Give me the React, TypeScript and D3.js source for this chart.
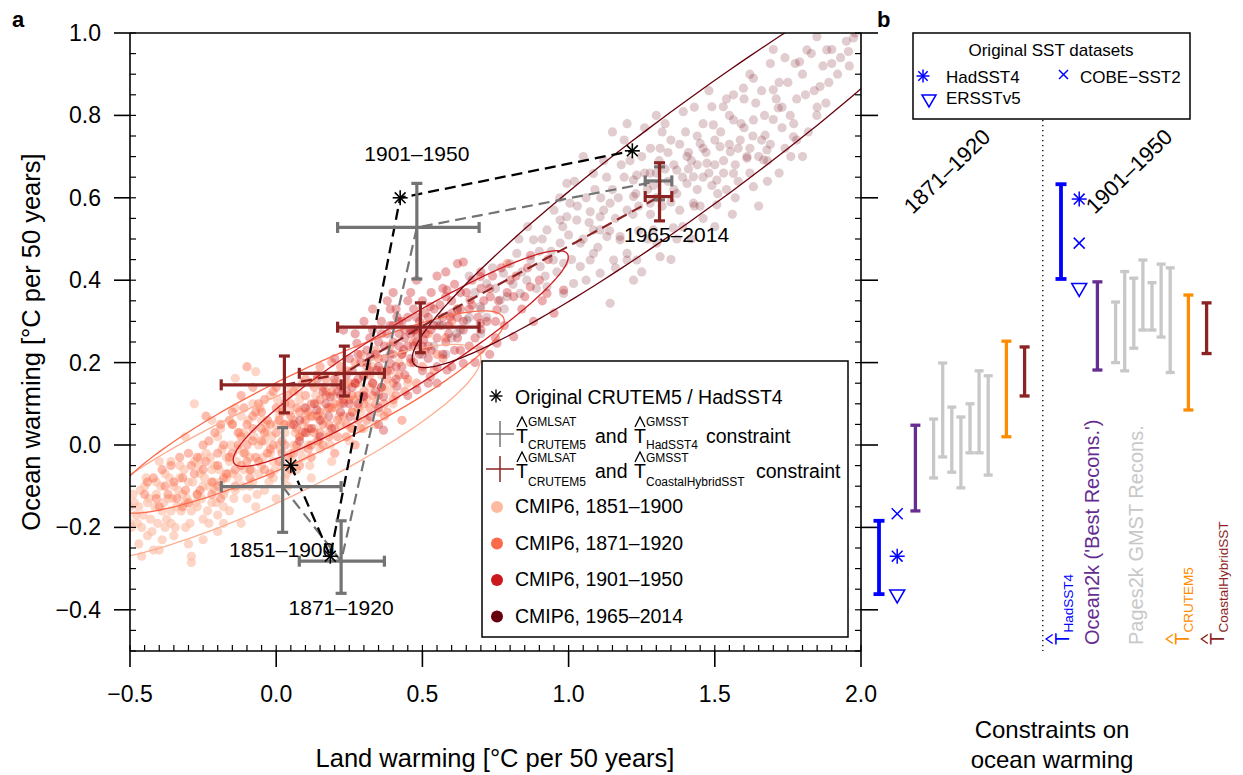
import React from 'react';
import * as d3 from 'd3';

type Pt = [number, number];

// ---------------- Panel a data ----------------
const periodLabels = ['1851–1900', '1871–1920', '1901–1950', '1965–2014'];
const cmipColors = ['#FCBBA1', '#FB6A4A', '#CB181D', '#67000D'];
const cmipOpacity = [0.6, 0.45, 0.36, 0.2];
const ellipseColors = ['#FCAE91', '#FB6A4A', '#CB181D', '#67000D'];

const cmip1851: Pt[] = [
  [-0.49,-0.12],[-0.48,-0.17],[-0.47,-0.15],[-0.46,-0.2],[-0.45,-0.1],[-0.44,-0.14],[-0.43,-0.18],[-0.42,-0.255],[-0.41,-0.12],[-0.4,-0.255],
  [-0.39,-0.16],[-0.38,-0.07],[-0.37,-0.13],[-0.36,-0.19],[-0.35,-0.1],[-0.34,-0.15],[-0.33,-0.05],[-0.32,-0.12],[-0.31,-0.2],[-0.3,-0.09],
  [-0.29,-0.27],[-0.29,-0.285],[-0.29,-0.16],[-0.28,-0.04],[-0.28,0.1],[-0.27,-0.12],[-0.26,-0.07],[-0.25,-0.18],[-0.24,-0.02],[-0.23,-0.1],
  [-0.22,-0.14],[-0.21,-0.05],[-0.2,-0.21],[-0.2,0.02],[-0.19,-0.09],[-0.18,-0.12],[-0.17,-0.03],[-0.16,-0.16],[-0.15,0.05],[-0.15,-0.07],
  [-0.14,0.162],[-0.14,-0.11],[-0.13,-0.01],[-0.12,-0.19],[-0.12,0.07],[-0.11,-0.06],[-0.1,-0.13],[-0.1,0.02],[-0.09,-0.03],[-0.08,0.1],
  [-0.08,-0.09],[-0.07,0.178],[-0.07,-0.15],[-0.06,0.0],[-0.05,-0.05],[-0.05,0.06],[-0.04,-0.11],[-0.03,0.03],[-0.02,-0.02],[-0.02,0.12],
  [-0.01,-0.08],[0.0,0.05],[0.0,-0.13],[0.01,0.0],[0.02,0.09],[0.02,-0.05],[0.03,0.03],[0.04,-0.1],[0.05,0.14],[0.05,-0.02],
  [0.06,0.06],[0.07,-0.06],[0.08,0.02],[0.08,0.11],[0.09,-0.03],[0.1,0.07],[0.11,0.0],[0.12,0.15],[0.12,-0.08],[0.13,0.04],
  [0.14,0.1],[0.15,-0.01],[0.16,0.07],[0.17,0.13],[0.18,0.03],[0.19,-0.04],[0.2,0.09],[0.21,0.17],[0.22,0.05],[0.24,0.12],
  [0.25,0.01],[0.26,0.08],[0.28,0.15],[0.3,0.04],[0.31,0.11],[0.33,0.19],[0.35,0.08],[0.37,0.14],[0.4,0.1],[0.42,0.2],[0.45,0.15],
  [-0.25,-0.1],[-0.22,-0.06],[-0.18,-0.15],[-0.16,-0.04],[-0.13,-0.08],[-0.11,0.03],[-0.09,-0.1],[-0.06,-0.07],[-0.04,0.01],[-0.01,-0.04],
  [0.01,0.07],[0.03,-0.08],[0.06,0.0],[0.09,0.05],[-0.35,-0.22],[-0.38,-0.2],[-0.44,-0.22],[-0.47,-0.24],[-0.5,-0.19],[-0.5,-0.15],
  [-0.33,-0.08],[-0.27,-0.15],[-0.23,-0.19],[-0.19,0.04],[-0.41,-0.09],[-0.36,-0.16],[-0.31,-0.14],[-0.26,-0.03],[-0.21,-0.11],[-0.17,-0.08],
  [-0.495,-0.2],[-0.485,-0.14],[-0.475,-0.19],[-0.465,-0.11],[-0.455,-0.17],[-0.445,-0.08],[-0.435,-0.13],[-0.425,-0.21],[-0.415,-0.15],[-0.405,-0.19],
  [-0.395,-0.1],[-0.385,-0.14],[-0.375,-0.18],[-0.365,-0.08],[-0.355,-0.13],[-0.345,-0.2],[-0.335,-0.11],[-0.325,-0.16],[-0.315,-0.06],[-0.305,-0.13],
  [-0.295,-0.19],[-0.285,-0.09],[-0.275,-0.14],[-0.265,-0.05],[-0.255,-0.13],[-0.245,-0.08],[-0.235,-0.16],[-0.225,-0.03],[-0.215,-0.09],[-0.205,-0.14],
  [-0.195,-0.06],[-0.185,-0.01],[-0.175,-0.11],[-0.165,-0.07],[-0.155,0.0],[-0.145,-0.13],[-0.135,-0.04],[-0.125,0.03],[-0.115,-0.1],[-0.105,-0.02],
  [-0.095,0.06],[-0.085,-0.06],[-0.075,0.02],[-0.065,-0.12],[-0.055,0.09],[-0.045,-0.03],[-0.035,0.05],[-0.025,-0.09],[-0.015,0.02],[-0.005,-0.06],
  [0.005,0.11],[0.015,-0.01],[0.025,0.05],[0.035,-0.07],[0.045,0.08],[0.055,-0.04],[0.065,0.03],[0.075,0.13],[0.085,-0.01],[0.095,0.09],
  [0.105,0.03],[0.115,-0.05],[0.125,0.07],[0.135,0.12],[0.145,0.01],[0.155,0.06],[0.165,0.17],[0.175,0.09],[0.185,0.0],[0.195,0.12],
  [0.215,0.07],[0.235,0.15],[0.255,0.04],[0.27,0.11],[0.29,0.08],[0.32,0.14],[0.34,0.05],[0.36,0.17],[0.39,0.13],[-0.36,-0.04],
  [-0.3,-0.24],[-0.25,-0.23],[-0.2,-0.17],[-0.46,-0.27],[-0.39,-0.23],[-0.14,0.09],[-0.22,0.06],[-0.31,0.02],[-0.4,-0.04],[-0.18,-0.19]
];

const cmip1871: Pt[] = [
  [-0.45,-0.12],[-0.42,-0.08],[-0.4,-0.15],[-0.38,-0.1],[-0.36,-0.05],[-0.34,-0.13],[-0.32,-0.08],[-0.3,-0.02],[-0.3,-0.14],[-0.28,-0.07],
  [-0.26,-0.11],[-0.25,0.0],[-0.24,-0.04],[-0.22,-0.09],[-0.21,0.03],[-0.2,-0.05],[-0.19,-0.13],[-0.18,0.0],[-0.17,-0.07],[-0.16,0.06],
  [-0.15,-0.02],[-0.14,-0.1],[-0.13,0.03],[-0.12,-0.05],[-0.11,0.09],[-0.1,0.0],[-0.09,-0.08],[-0.08,0.04],[-0.07,-0.03],[-0.06,0.1],
  [-0.05,0.01],[-0.04,-0.06],[-0.03,0.06],[-0.02,-0.01],[-0.01,0.13],[0.0,0.03],[0.01,-0.04],[0.02,0.08],[0.03,0.0],[0.04,0.12],
  [0.05,0.05],[0.06,-0.02],[0.07,0.09],[0.08,0.02],[0.09,0.15],[0.1,0.06],[0.11,-0.01],[0.12,0.1],[0.13,0.03],[0.14,0.17],
  [0.15,0.08],[0.16,0.0],[0.17,0.12],[0.18,0.05],[0.19,0.2],[0.2,0.1],[0.21,0.02],[0.22,0.14],[0.23,0.07],[0.24,0.18],
  [0.25,0.11],[0.26,0.04],[0.27,0.15],[0.28,0.09],[0.29,0.22],[0.3,0.13],[0.31,0.06],[0.32,0.17],[0.34,0.1],[0.35,0.21],
  [0.36,0.14],[0.38,0.08],[0.39,0.18],[0.41,0.12],[0.43,0.22],[0.45,0.16],[0.47,0.25],[0.5,0.19],[0.52,0.27],[0.55,0.22],
  [0.58,0.26],[0.6,0.3],[-0.08,0.07],[-0.04,0.03],[0.0,0.09],[0.02,-0.02],[0.05,0.1],[0.07,0.04],[0.1,0.12],[0.12,0.0],
  [0.14,0.07],[0.16,0.14],[0.18,0.09],[0.2,0.04],[0.22,0.1],[0.24,0.02],[0.26,0.12],[0.28,0.06],[-0.12,0.02],[-0.15,0.05],
  [-0.1,-0.04],[-0.05,0.08],[0.03,0.05],[0.08,-0.05],[0.11,0.08],[0.19,0.13],[0.15,0.03],[-0.2,-0.1],[-0.27,-0.03],[0.33,0.12],
  [0.37,0.1],[0.3,0.17],[0.4,0.15],[0.79,0.44],[0.62,0.33],[-0.1,0.19],
  [-0.44,-0.09],[-0.41,-0.13],[-0.39,-0.06],[-0.37,-0.12],[-0.35,-0.09],[-0.33,-0.03],[-0.31,-0.11],[-0.29,-0.05],[-0.27,-0.12],[-0.25,-0.06],
  [-0.23,0.01],[-0.22,-0.12],[-0.2,-0.02],[-0.19,0.05],[-0.18,-0.08],[-0.16,-0.03],[-0.15,0.08],[-0.14,-0.06],[-0.13,0.0],[-0.12,0.12],
  [-0.11,-0.02],[-0.1,0.05],[-0.09,-0.06],[-0.08,0.01],[-0.07,0.08],[-0.06,-0.04],[-0.05,0.04],[-0.04,0.11],[-0.03,-0.02],[-0.02,0.05],
  [-0.01,0.0],[0.0,0.14],[0.01,0.06],[0.02,0.01],[0.03,0.1],[0.04,-0.03],[0.05,0.07],[0.06,0.13],[0.07,0.0],[0.08,0.08],
  [0.09,0.03],[0.1,0.16],[0.11,0.04],[0.12,0.07],[0.13,0.14],[0.14,0.01],[0.15,0.11],[0.16,0.05],[0.17,0.16],[0.18,0.02],
  [0.19,0.09],[0.2,0.15],[0.21,0.06],[0.22,0.19],[0.23,0.11],[0.24,0.05],[0.25,0.15],[0.26,0.08],[0.27,0.2],[0.28,0.12],
  [0.29,0.04],[0.3,0.1],[0.31,0.19],[0.32,0.09],[0.33,0.15],[0.34,0.23],[0.35,0.12],[0.36,0.18],[0.37,0.07],[0.38,0.16],
  [0.39,0.24],[0.4,0.11],[0.42,0.17],[0.44,0.13],[0.46,0.2],[0.48,0.15],[0.51,0.23],[0.54,0.18],[0.57,0.21],[0.48,0.28],
  [0.05,-0.06],[-0.02,-0.07],[0.12,-0.03],[-0.24,0.07],[-0.08,0.14],[0.15,0.19],[-0.32,-0.15],[0.2,-0.02],[0.43,0.06],[0.27,0.0]
];

const cmip1901: Pt[] = [
  [0.64,0.444],[0.698,0.409],[0.732,0.36],[0.663,0.352],[0.584,0.376],[0.527,0.336],[0.595,0.311],[0.64,0.279],[0.698,0.295],[0.755,0.328],
  [0.812,0.36],[0.869,0.384],[0.926,0.368],[0.983,0.376],[0.812,0.263],[0.755,0.247],[0.698,0.231],[0.64,0.198],[0.584,0.182],[0.527,0.166],
  [0.481,0.134],[0.413,0.142],[0.367,0.117],[0.367,0.036],[0.299,0.166],[0.322,0.214],[0.276,0.247],[0.23,0.279],[0.413,0.311],[0.47,0.279],
  [0.504,0.255],[0.436,0.231],[0.39,0.198],[0.344,0.182],[0.299,0.117],[0.23,0.101],[0.185,0.117],[0.139,0.085],[0.253,0.069],[0.321,0.069],
  [0.35,0.25],[0.38,0.27],[0.4,0.22],[0.42,0.3],[0.44,0.26],[0.46,0.21],[0.48,0.31],[0.5,0.28],[0.52,0.24],[0.54,0.33],
  [0.56,0.29],[0.58,0.25],[0.6,0.35],[0.62,0.31],[0.45,0.35],[0.43,0.19],[0.37,0.21],[0.33,0.28],[0.31,0.23],[0.29,0.2],
  [0.27,0.15],[0.25,0.21],[0.24,0.13],[0.2,0.16],[0.18,0.07],[0.16,0.13],[0.12,0.04],[0.1,0.09],[0.08,0.01],[0.06,0.05],
  [0.55,0.19],[0.57,0.38],[0.61,0.23],[0.66,0.33],[0.68,0.26],[0.7,0.38],[0.72,0.3],[0.74,0.41],[0.76,0.35],[0.78,0.29],
  [0.8,0.4],[0.84,0.33],[0.86,0.43],[0.9,0.4],[0.93,0.45],[0.95,0.32],[0.5,0.18],[0.41,0.16],[0.34,0.13],[0.28,0.1],
  [0.47,0.24],[0.51,0.32],[0.39,0.33],[0.36,0.3],[0.53,0.28],[0.59,0.29],[0.63,0.37],[0.49,0.22],[0.44,0.28],[0.42,0.24],
  [0.46,0.27],[0.4,0.29],[0.48,0.25],[0.52,0.21],[0.32,0.18],[0.26,0.18],[0.22,0.12],[0.15,0.02],[0.35,0.09],[0.58,0.42],
  [0.67,0.4],[0.73,0.22],[0.88,0.3],[0.55,0.15],
  [0.1,0.03],[0.13,0.1],[0.15,0.06],[0.17,0.1],[0.19,0.04],[0.21,0.13],[0.22,0.08],[0.24,0.17],[0.25,0.1],[0.26,0.14],
  [0.28,0.22],[0.28,0.16],[0.3,0.12],[0.31,0.2],[0.32,0.26],[0.33,0.15],[0.34,0.22],[0.35,0.19],[0.36,0.27],[0.36,0.14],
  [0.37,0.24],[0.38,0.18],[0.39,0.29],[0.39,0.22],[0.4,0.25],[0.41,0.19],[0.41,0.33],[0.42,0.27],[0.43,0.22],[0.43,0.3],
  [0.44,0.17],[0.45,0.24],[0.45,0.31],[0.46,0.28],[0.47,0.2],[0.47,0.33],[0.48,0.27],[0.49,0.3],[0.5,0.24],[0.5,0.35],
  [0.51,0.27],[0.52,0.31],[0.53,0.23],[0.53,0.37],[0.54,0.29],[0.55,0.26],[0.56,0.34],[0.57,0.22],[0.57,0.31],[0.58,0.36],
  [0.59,0.27],[0.6,0.32],[0.61,0.39],[0.62,0.26],[0.63,0.33],[0.64,0.3],[0.65,0.37],[0.66,0.24],[0.67,0.34],[0.69,0.31],
  [0.7,0.42],[0.71,0.35],[0.73,0.38],[0.75,0.3],[0.77,0.43],[0.79,0.37],[0.82,0.41],[0.85,0.36],[0.87,0.46],[0.91,0.35],
  [0.3,0.3],[0.27,0.27],[0.4,0.37],[0.48,0.4],[0.55,0.41],[0.62,0.44],[0.35,0.05],[0.45,0.12],[0.52,0.15],[0.6,0.19],
  [0.68,0.2],[0.75,0.26],[0.2,0.21],[0.14,0.16],[0.08,0.06],[0.38,0.35],[0.46,0.37],[0.33,0.33],[0.63,0.23],[0.7,0.28]
];

const cmip1965: Pt[] = [
  [1.775,0.926],[1.9,0.926],[1.815,0.959],[1.69,0.926],[1.632,0.89],[1.598,0.866],[1.7,0.862],[1.717,0.818],[1.758,0.8],[1.849,0.8],
  [1.672,0.752],[1.678,0.716],[1.769,0.748],[1.529,0.821],[1.564,0.789],[1.495,0.777],[1.392,0.809],[1.313,0.72],[1.518,0.724],[1.553,0.712],
  [1.61,0.696],[1.473,0.684],[1.427,0.651],[1.405,0.635],[1.507,0.643],[1.564,0.659],[1.507,0.583],[1.632,0.627],[1.667,0.692],[1.427,0.587],
  [1.233,0.655],[1.222,0.603],[1.2,0.57],[1.108,0.554],[1.074,0.566],[1.04,0.49],[1.131,0.506],[1.2,0.449],[1.313,0.457],[1.358,0.527],
  [1.302,0.49],[1.005,0.587],[0.994,0.554],[1.085,0.522],[0.983,0.441],[1.074,0.449],[1.176,0.506],[1.37,0.667],[1.45,0.732],[1.405,0.7],
  [1.587,0.74],[1.632,0.789],[1.564,0.85],[1.49,0.821],[1.883,0.959],[1.974,0.988],[1.957,0.955],[1.849,0.991],
  [1.085,0.659],[0.994,0.635],[1.142,0.587],[1.222,0.643],[1.028,0.546],[1.108,0.522],[1.176,0.498],[1.2,0.465],[1.085,0.465],[1.04,0.433],
  [1.108,0.417],[1.154,0.449],[1.233,0.449],[1.222,0.4],[1.142,0.344],[0.971,0.546],[0.926,0.522],[0.88,0.498],[0.823,0.465],[0.971,0.49],
  [0.948,0.449],[0.903,0.433],[0.857,0.4],[0.777,0.417],[0.72,0.392],[0.834,0.368],[0.926,0.384],[0.983,0.368],[0.766,0.352],[0.698,0.336],
  [0.652,0.303],[0.618,0.271],[1.017,0.392],[1.279,0.587],[1.29,0.522],[1.279,0.66],
  [1.15,0.62],[1.18,0.68],[1.25,0.7],[1.27,0.62],[1.3,0.6],[1.33,0.67],[1.35,0.74],[1.36,0.62],[1.38,0.57],[1.4,0.76],
  [1.42,0.69],[1.44,0.62],[1.46,0.78],[1.47,0.71],[1.5,0.68],[1.52,0.76],[1.54,0.62],[1.55,0.8],[1.58,0.72],[1.6,0.77],
  [1.62,0.66],[1.64,0.83],[1.66,0.74],[1.7,0.79],[1.72,0.88],[1.74,0.72],[1.78,0.84],[1.8,0.9],[1.82,0.76],[1.86,0.87],
  [1.88,0.83],[1.92,0.9],[1.95,0.98],[1.74,0.94],[1.66,0.86],[1.6,0.84],[1.48,0.86],[1.44,0.75],[1.34,0.71],[1.26,0.77],
  [1.19,0.74],[1.12,0.69],[1.06,0.6],[1.0,0.51],[0.95,0.57],[0.9,0.47],[0.86,0.53],[0.8,0.44],[0.74,0.43],[0.68,0.37],
  [0.62,0.33],[0.57,0.29],[0.54,0.24],[0.5,0.22],[0.6,0.26],[0.66,0.41],[0.72,0.31],[0.79,0.36],[0.84,0.42],[0.92,0.41],
  [0.97,0.6],[1.02,0.64],[1.05,0.5],[1.11,0.6],[1.16,0.55],[1.24,0.52],[1.28,0.56],[1.32,0.58],[1.37,0.61],[1.39,0.53],
  [1.45,0.58],[1.49,0.63],[1.53,0.69],[1.57,0.6],[1.62,0.72],[1.68,0.64],[1.73,0.77],[1.76,0.7],[1.84,0.86],[1.9,0.96],
  [1.46,0.65],[1.41,0.67],[1.3,0.66],[1.22,0.56],[1.1,0.48],[1.25,0.42],[1.35,0.45],[1.42,0.5],[1.5,0.53],[1.56,0.56],
  [1.65,0.58],[1.72,0.66],[1.8,0.7],[1.05,0.7],[1.15,0.76],[1.3,0.8],[1.2,0.78],
  [0.55,0.3],[0.58,0.22],[0.63,0.28],[0.66,0.31],[0.7,0.33],[0.7,0.27],[0.75,0.38],[0.78,0.33],[0.81,0.39],[0.83,0.5],
  [0.87,0.45],[0.89,0.38],[0.91,0.5],[0.94,0.47],[0.96,0.42],[0.98,0.53],[1.01,0.45],[1.03,0.58],[1.07,0.54],[1.09,0.62],
  [1.12,0.57],[1.13,0.65],[1.14,0.52],[1.17,0.6],[1.19,0.65],[1.21,0.69],[1.23,0.61],[1.24,0.58],[1.26,0.66],[1.28,0.72],
  [1.29,0.63],[1.31,0.69],[1.32,0.76],[1.34,0.64],[1.35,0.59],[1.36,0.68],[1.38,0.73],[1.39,0.65],[1.41,0.71],[1.43,0.58],
  [1.44,0.68],[1.46,0.72],[1.48,0.66],[1.5,0.74],[1.51,0.61],[1.53,0.66],[1.55,0.73],[1.57,0.68],[1.59,0.78],[1.61,0.7],
  [1.63,0.75],[1.65,0.7],[1.67,0.8],[1.69,0.73],[1.71,0.84],[1.73,0.82],[1.75,0.88],[1.77,0.78],[1.79,0.93],[1.81,0.85],
  [1.83,0.95],[1.85,0.82],[1.87,0.92],[1.89,0.88],[1.93,0.94],[1.96,0.92],[1.98,1.0],[1.7,0.96],[1.62,0.9],[1.54,0.84],
  [1.43,0.82],[1.33,0.78],[1.27,0.5],[1.37,0.5],[1.46,0.55],[1.58,0.64],[1.68,0.69],[1.78,0.74],[1.16,0.43],[1.06,0.4]
];

// CMIP6 ellipses (centre, conjugate semi-diameters in data units)
const ellCX = [-0.025, 0.11, 0.426, 1.45];
const ellCY = [-0.02, 0.08, 0.21, 0.71];
const ellAX = [0.725, 0.67, 0.573, 0.985];
const ellAY = [0.23, 0.22, 0.246, 0.5];
const ellBY = [0.13, 0.109, 0.09, 0.15];

// Original CRUTEM5 / HadSST4
const origX = [0.05, 0.185, 0.424, 1.218];
const origY = [-0.049, -0.27, 0.6, 0.714];

// Constraint with HadSST4 (grey)
const grayX = [0.022, 0.222, 0.481, 1.311];
const grayXLo = [-0.188, 0.079, 0.21, 1.262];
const grayXHi = [0.222, 0.37, 0.694, 1.353];
const grayY = [-0.101, -0.282, 0.528, 0.641];
const grayYLo = [-0.212, -0.36, 0.403, 0.595];
const grayYHi = [0.042, -0.184, 0.635, 0.675];

// Constraint with CoastalHybridSST (dark red)
const redX = [0.028, 0.233, 0.493, 1.311];
const redXLo = [-0.188, 0.079, 0.21, 1.262];
const redXHi = [0.222, 0.37, 0.694, 1.353];
const redY = [0.146, 0.174, 0.286, 0.603];
const redYLo = [0.078, 0.119, 0.224, 0.544];
const redYHi = [0.216, 0.24, 0.345, 0.685];

// Axis ticks
const xTickValues = [-0.5, 0, 0.5, 1.0, 1.5, 2.0];
const yTickValues = [-0.4, -0.2, 0, 0.2, 0.4, 0.6, 0.8, 1.0];

// ---------------- Panel b data ----------------
const bPeriods = ['1871–1920', '1901–1950'];
const hadLo = [-0.362, 0.403];
const hadHi = [-0.184, 0.633];
const sstHadSST4 = [-0.27, 0.597];
const sstCOBE = [-0.167, 0.49];
const sstERSST = [-0.364, 0.38];
const ocean2kLo = [-0.16, 0.182];
const ocean2kHi = [0.048, 0.396];
const pages2kLo = [
  [-0.08, -0.029, -0.066, -0.104, -0.019, -0.019, -0.073],
  [0.2, 0.18, 0.235, 0.279, 0.279, 0.262, 0.176],
];
const pages2kHi = [
  [0.063, 0.199, 0.092, 0.068, 0.1, 0.18, 0.168],
  [0.347, 0.421, 0.405, 0.449, 0.394, 0.439, 0.43],
];
const crutemLo = [0.02, 0.085];
const crutemHi = [0.252, 0.364];
const coastalLo = [0.119, 0.222];
const coastalHi = [0.238, 0.345];

const FONT = "'Liberation Sans', Arial, Helvetica, sans-serif";
const GRAY = '#737373';
const DRED = '#8B2323';
const BLUE = '#0000FF';
const PURPLE = '#662D91';
const LGRAY = '#C8C8C8';
const ORANGE = '#FF8C00';

function Asterisk({ cx, cy, r, color, sw }: { cx: number; cy: number; r: number; color: string; sw: number }) {
  const d = r * 0.72;
  return (
    <g stroke={color} strokeWidth={sw} strokeLinecap="butt">
      <line x1={cx - r} y1={cy} x2={cx + r} y2={cy} />
      <line x1={cx} y1={cy - r} x2={cx} y2={cy + r} />
      <line x1={cx - d} y1={cy - d} x2={cx + d} y2={cy + d} />
      <line x1={cx - d} y1={cy + d} x2={cx + d} y2={cy - d} />
    </g>
  );
}

function Cross({ xc, yc, x0, x1, y0, y1, color, sw, cap }: any) {
  return (
    <g stroke={color} strokeWidth={sw} fill="none">
      <line x1={x0} y1={yc} x2={x1} y2={yc} />
      <line x1={x0} y1={yc - cap} x2={x0} y2={yc + cap} />
      <line x1={x1} y1={yc - cap} x2={x1} y2={yc + cap} />
      <line x1={xc} y1={y0} x2={xc} y2={y1} />
      <line x1={xc - cap} y1={y0} x2={xc + cap} y2={y0} />
      <line x1={xc - cap} y1={y1} x2={xc + cap} y2={y1} />
    </g>
  );
}

function VBar({ xp, y0, y1, color, sw, cap }: any) {
  return (
    <g stroke={color} strokeWidth={sw}>
      <line x1={xp} y1={y0} x2={xp} y2={y1} />
      <line x1={xp - cap} y1={y0} x2={xp + cap} y2={y0} />
      <line x1={xp - cap} y1={y1} x2={xp + cap} y2={y1} />
    </g>
  );
}

function Hat({ cx, base }: { cx: number; base: number }) {
  return <path d={`M${cx - 5},${base - 16} L${cx},${base - 26} L${cx + 5},${base - 16}`} fill="none" stroke="#000" strokeWidth={1.3} />;
}

export default function App() {
  const x = d3.scaleLinear().domain([-0.5, 2.0]).range([130, 861]);
  const y = d3.scaleLinear().domain([-0.5, 1.0]).range([651, 33]);
  const slot = d3.scaleLinear().domain([0, 20]).range([879, 1061]);

  const yMinor = d3.range(0, 31).map((i) => -0.5 + i * 0.05);
  const xMinor = d3.range(0, 51).map((i) => -0.5 + i * 0.05);
  const fmt = (v: number) => (v < -1e-9 ? '−' : '') + Math.abs(v).toFixed(1);

  const clouds = [cmip1851, cmip1871, cmip1901, cmip1965];

  const ellipsePath = (i: number) => {
    const pts: Pt[] = d3.range(0, 361, 2).map((deg) => {
      const t = (deg * Math.PI) / 180;
      return [x(ellCX[i] + ellAX[i] * Math.cos(t)), y(ellCY[i] + ellAY[i] * Math.cos(t) + ellBY[i] * Math.sin(t))];
    });
    return d3.line()(pts) as string;
  };

  const linePath = (xs: number[], ys: number[]) => d3.line()(xs.map((v, i) => [x(v), y(ys[i])] as Pt)) as string;

  // label offsets (px) from the grey constraint centres
  const lblDX = [-1, 0, 0, 17];
  const lblDY = [70, 54, -66, 61];

  const groups = [0, 20];

  const legendRows = [
    { base: 443, color: GRAY, sub2: 'HadSST4', cons: 706, supDy: -17, subDy: 6 },
    { base: 478, color: DRED, sub2: 'CoastalHybridSST', cons: 756, supDy: -16, subDy: 8 },
  ];

  return (
    <svg width={1243} height={775} style={{ position: 'absolute', left: 0, top: 0, background: '#fff' }} fontFamily={FONT}>
      <defs>
        <clipPath id="plotClip">
          <rect x={130} y={33} width={731} height={618} />
        </clipPath>
      </defs>
      <rect x={0} y={0} width={1243} height={775} fill="#fff" />

      {/* scatter clouds */}
      <g clipPath="url(#plotClip)">
        {clouds.map((c, i) => (
          <g key={i} fill={cmipColors[i]} fillOpacity={cmipOpacity[i]}>
            {c.map((p, j) => (
              <circle key={j} cx={x(p[0])} cy={y(p[1])} r={4.6} />
            ))}
          </g>
        ))}
        {ellCX.map((_, i) => (
          <path key={i} d={ellipsePath(i)} fill="none" stroke={ellipseColors[i]} strokeWidth={1.3} />
        ))}
      </g>

      {/* dashed connecting lines */}
      <path d={linePath(redX, redY)} fill="none" stroke={DRED} strokeWidth={2.2} strokeDasharray="11 6" />
      <path d={linePath(grayX, grayY)} fill="none" stroke={GRAY} strokeWidth={2.2} strokeDasharray="11 6" />
      <path d={linePath(origX, origY)} fill="none" stroke="#000" strokeWidth={2.3} strokeDasharray="11 6" />

      {/* constraint crosses */}
      {grayX.map((_, i) => (
        <Cross key={'g' + i} xc={x(grayX[i])} yc={y(grayY[i])} x0={x(grayXLo[i])} x1={x(grayXHi[i])} y0={y(grayYLo[i])} y1={y(grayYHi[i])} color={GRAY} sw={3.2} cap={5.5} />
      ))}
      {redX.map((_, i) => (
        <Cross key={'r' + i} xc={x(redX[i])} yc={y(redY[i])} x0={x(redXLo[i])} x1={x(redXHi[i])} y0={y(redYLo[i])} y1={y(redYHi[i])} color={DRED} sw={3.2} cap={5.5} />
      ))}

      {/* original asterisks */}
      {origX.map((v, i) => (
        <Asterisk key={i} cx={x(v)} cy={y(origY[i])} r={7.5} color="#000" sw={1.6} />
      ))}

      {/* period labels */}
      {periodLabels.map((t, i) => (
        <text key={i} x={x(grayX[i]) + lblDX[i]} y={y(grayY[i]) + lblDY[i]} textAnchor="middle" fontSize={21}>
          {t}
        </text>
      ))}

      {/* axes frame */}
      <g stroke="#000" strokeWidth={1.6} fill="none">
        <line x1={130} y1={y(-0.5)} x2={130} y2={y(1.0)} />
        <line x1={861} y1={y(-0.5)} x2={861} y2={y(1.0)} />
        <line x1={130} y1={y(-0.5)} x2={861} y2={y(-0.5)} />
        <line x1={130} y1={y(1.0)} x2={861} y2={y(1.0)} />
        {yTickValues.map((v) => (
          <g key={v}>
            <line x1={114} y1={y(v)} x2={130} y2={y(v)} />
            <line x1={861} y1={y(v)} x2={878} y2={y(v)} />
          </g>
        ))}
        {yMinor.map((v, i) => (
          <g key={i}>
            <line x1={130} y1={y(v)} x2={136} y2={y(v)} strokeWidth={1.2} />
            <line x1={855} y1={y(v)} x2={861} y2={y(v)} strokeWidth={1.2} />
          </g>
        ))}
        {xTickValues.map((v) => (
          <line key={v} x1={x(v)} y1={y(-0.5)} x2={x(v)} y2={y(-0.5) + 16} />
        ))}
        {xMinor.map((v, i) => (
          <line key={i} x1={x(v)} y1={y(-0.5)} x2={x(v)} y2={y(-0.5) - 6} strokeWidth={1.2} />
        ))}
      </g>
      {yTickValues.map((v) => (
        <text key={v} x={101} y={y(v) + 8} textAnchor="end" fontSize={23}>
          {fmt(v)}
        </text>
      ))}
      {xTickValues.map((v) => (
        <text key={v} x={x(v)} y={702} textAnchor="middle" fontSize={23}>
          {fmt(v)}
        </text>
      ))}
      <text x={495} y={767} textAnchor="middle" fontSize={25.5}>
        Land warming [°C per 50 years]
      </text>
      <text transform={`translate(40,${(33 + 651) / 2}) rotate(-90)`} textAnchor="middle" fontSize={25.5}>
        Ocean warming [°C per 50 years]
      </text>
      <text x={12} y={27} fontSize={22} fontWeight="bold">a</text>
      <text x={877} y={27} fontSize={22} fontWeight="bold">b</text>

      {/* legend panel a */}
      <rect x={482} y={361} width={366} height={276} fill="#fff" stroke="#000" strokeWidth={1.5} />
      <Asterisk cx={496} cy={396} r={6.5} color="#000" sw={1.4} />
      <text x={515} y={404} fontSize={19.5}>Original CRUTEM5 / HadSST4</text>
      {legendRows.map((r, i) => (
        <g key={i}>
          <g stroke={r.color} strokeWidth={1.5}>
            <line x1={486} y1={r.base - 9} x2={514} y2={r.base - 9} />
            <line x1={500} y1={r.base - 22} x2={500} y2={r.base + 4} />
          </g>
          <Hat cx={522} base={r.base} />
          <Hat cx={640} base={r.base} />
          <text x={516} y={r.base} fontSize={19.5}>T</text>
          <text x={528} y={r.base + r.supDy} fontSize={12}>GMLSAT</text>
          <text x={528} y={r.base + r.subDy} fontSize={12}>CRUTEM5</text>
          <text x={595} y={r.base} fontSize={19.5}>and</text>
          <text x={634} y={r.base} fontSize={19.5}>T</text>
          <text x={646} y={r.base + r.supDy} fontSize={12}>GMSST</text>
          <text x={646} y={r.base + r.subDy} fontSize={12}>{r.sub2}</text>
          <text x={r.cons} y={r.base} fontSize={19.5}>constraint</text>
        </g>
      ))}
      {periodLabels.map((t, i) => (
        <g key={i}>
          <circle cx={497} cy={507 + i * 36.5} r={6} fill={cmipColors[i]} />
          <text x={515} y={513 + i * 36.5} fontSize={19.5}>{'CMIP6, ' + t}</text>
        </g>
      ))}

      {/* ---------------- panel b ---------------- */}
      <line x1={slot(18)} y1={120} x2={slot(18)} y2={y(-0.5)} stroke="#000" strokeWidth={1.3} strokeDasharray="1.3 3.7" />
      {groups.map((g, gi) => (
        <g key={gi}>
          <VBar xp={slot(g)} y0={y(hadLo[gi])} y1={y(hadHi[gi])} color={BLUE} sw={3.8} cap={5.5} />
          <Asterisk cx={slot(g + 2)} cy={y(sstHadSST4[gi])} r={7.5} color={BLUE} sw={1.5} />
          <g stroke={BLUE} strokeWidth={1.5}>
            <line x1={slot(g + 2) - 5.5} y1={y(sstCOBE[gi]) - 5.5} x2={slot(g + 2) + 5.5} y2={y(sstCOBE[gi]) + 5.5} />
            <line x1={slot(g + 2) - 5.5} y1={y(sstCOBE[gi]) + 5.5} x2={slot(g + 2) + 5.5} y2={y(sstCOBE[gi]) - 5.5} />
          </g>
          <path
            d={`M${slot(g + 2) - 7.5},${y(sstERSST[gi]) - 5} L${slot(g + 2) + 7.5},${y(sstERSST[gi]) - 5} L${slot(g + 2)},${y(sstERSST[gi]) + 8} Z`}
            fill="none"
            stroke={BLUE}
            strokeWidth={1.5}
          />
          <VBar xp={slot(g + 4)} y0={y(ocean2kLo[gi])} y1={y(ocean2kHi[gi])} color={PURPLE} sw={3.3} cap={5} />
          {pages2kLo[gi].map((lo, k) => (
            <VBar key={k} xp={slot(g + 6 + k)} y0={y(lo)} y1={y(pages2kHi[gi][k])} color={LGRAY} sw={3.3} cap={4.5} />
          ))}
          <VBar xp={slot(g + 14)} y0={y(crutemLo[gi])} y1={y(crutemHi[gi])} color={ORANGE} sw={3.3} cap={5} />
          <VBar xp={slot(g + 16)} y0={y(coastalLo[gi])} y1={y(coastalHi[gi])} color={DRED} sw={3.3} cap={5} />
          <text transform={`translate(${slot(g + 3.7)},215) rotate(-44)`} fontSize={22}>
            {bPeriods[gi]}
          </text>
        </g>
      ))}

      {/* panel b vertical labels */}
      {[
        { xp: slot(20.9), sub: 'HadSST4', color: BLUE },
        { xp: slot(34.1), sub: 'CRUTEM5', color: ORANGE },
        { xp: slot(37.95), sub: 'CoastalHybridSST', color: DRED },
      ].map((l, i) => (
        <g key={i} transform={`translate(${l.xp},645) rotate(-90)`} fill={l.color}>
          <path d="M1.5,-16.5 L6,-23 L10.5,-16.5" fill="none" stroke={l.color} strokeWidth={1.4} />
          <text x={0} y={0} fontSize={20}>T</text>
          <text x={12.5} y={4} fontSize={13.5}>{l.sub}</text>
        </g>
      ))}
      <text transform={`translate(${slot(24.2)},645) rotate(-90)`} fontSize={20} fill={PURPLE}>
        Ocean2k ('Best Recons.')
      </text>
      <text transform={`translate(${slot(29)},645) rotate(-90)`} fontSize={20} fill={LGRAY}>
        Pages2k GMST Recons.
      </text>

      <text x={1052} y={738} textAnchor="middle" fontSize={24}>Constraints on</text>
      <text x={1052} y={768} textAnchor="middle" fontSize={24}>ocean warming</text>

      {/* panel b legend */}
      <rect x={913} y={33} width={277} height={86} fill="#fff" stroke="#000" strokeWidth={1.5} />
      <text x={1051} y={56} textAnchor="middle" fontSize={17}>Original SST datasets</text>
      <Asterisk cx={923} cy={76} r={6.5} color={BLUE} sw={1.5} />
      <text x={946} y={83} fontSize={17}>HadSST4</text>
      <g stroke={BLUE} strokeWidth={1.5}>
        <line x1={1059} y1={70} x2={1068} y2={79} />
        <line x1={1059} y1={79} x2={1068} y2={70} />
      </g>
      <text x={1080} y={83} fontSize={17}>COBE−SST2</text>
      <path d="M922,95 L936,95 L929,107 Z" fill="none" stroke={BLUE} strokeWidth={1.5} />
      <text x={946} y={104} fontSize={17}>ERSSTv5</text>
    </svg>
  );
}
